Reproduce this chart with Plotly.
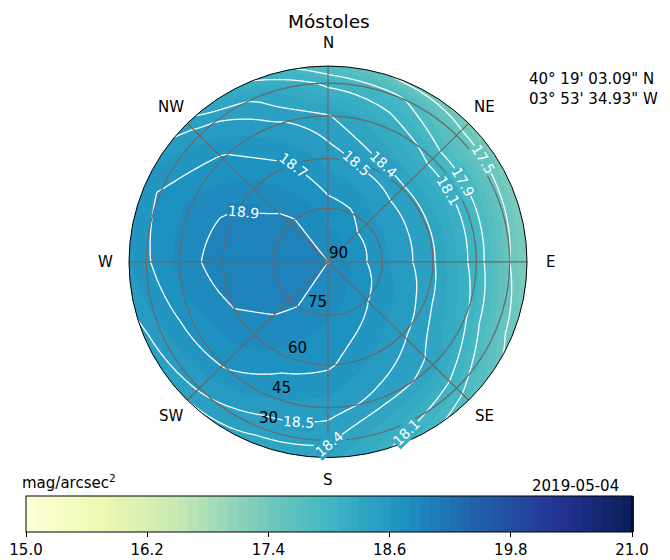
import numpy as np
import plotly.graph_objects as go

# ---------------- data ----------------
AZ = [0, 22.5, 45, 67.5, 90, 112.5, 135, 157.5, 180, 202.5, 225, 247.5, 270, 292.5, 315, 337.5]
ALT = [90, 75, 60, 45, 30, 18.5]                   # altitude rings, deg (last = map edge)
mag_alt90 = [18.90] * 16
mag_alt75 = [18.75, 18.72, 18.64, 18.63, 18.62, 18.67, 18.71, 18.77,
             18.81, 18.87, 18.93, 18.95, 18.98, 18.96, 18.93, 18.84]
mag_alt60 = [18.56, 18.47, 18.43, 18.42, 18.42, 18.46, 18.52, 18.61,
             18.72, 18.76, 18.86, 18.91, 18.97, 18.93, 18.83, 18.72]
mag_alt45 = [18.41, 18.23, 18.03, 18.03, 18.02, 18.12, 18.36, 18.45,
             18.55, 18.61, 18.71, 18.76, 18.83, 18.82, 18.72, 18.53]
mag_alt30 = [18.05, 17.94, 17.61, 17.56, 17.50, 17.64, 17.99, 18.19,
             18.42, 18.43, 18.52, 18.58, 18.68, 18.71, 18.55, 18.37]
mag_alt18 = [17.75, 17.45, 17.35, 17.28, 17.28, 17.40, 17.80, 18.05,
             18.35, 18.37, 18.40, 18.47, 18.60, 18.66, 18.45, 18.10]
LEVELS = [17.5, 17.9, 18.1, 18.4, 18.5, 18.7, 18.9]
# contour labels: level and approximate spot (pixel) where the reference writes it
LABEL_LEVEL = [18.9, 18.7, 18.5, 18.4, 18.1, 17.9, 17.5, 18.5, 18.4, 18.1]
LABEL_PX = [245, 297, 355, 390, 447, 470, 487, 298, 328, 378]
LABEL_PY = [198, 162, 167, 160, 195, 180, 160, 427, 450, 452]
RING_TICKS = [90, 75, 60, 45, 30]
DIRS = ["N", "NE", "E", "SE", "S", "SW", "W", "NW"]
DIR_AZ = [0, 45, 90, 135, 180, 225, 270, 315]
CB_TICKS = [15.0, 16.2, 17.4, 18.6, 19.8, 21.0]
TITLE = "Móstoles"
COORDS = "40° 19' 03.09\" N<br>03° 53' 34.93\" W"
DATE = "2019-05-04"
UNIT = "mag/arcsec<sup>2</sup>"

rows = [mag_alt90, mag_alt75, mag_alt60, mag_alt45, mag_alt30, mag_alt18]

# ---------------- gridding (polar -> cartesian) ----------------
rings = np.cos(np.radians(ALT))
R = rings[-1]


def mag_at(X, Y):
    X = np.asarray(X, float)
    Y = np.asarray(Y, float)
    RR = np.clip(np.hypot(X, Y), 0, R)
    AZG = np.degrees(np.arctan2(X, Y)) % 360
    vals = [np.interp(AZG, AZ, row, period=360) for row in rows]
    Z = np.zeros_like(RR)
    for k in range(len(rings) - 1):
        m = (RR >= rings[k]) & (RR <= rings[k + 1])
        t = (RR - rings[k]) / (rings[k + 1] - rings[k])
        Z = np.where(m, (1 - t) * vals[k] + t * vals[k + 1], Z)
    return Z


n = 331
xs = np.linspace(-1.02 * R, 1.02 * R, n)
X, Y = np.meshgrid(xs, xs)
Z = mag_at(X, Y)

YlGnBu = ["#ffffd9", "#edf8b1", "#c7e9b4", "#7fcdbb", "#41b6c4",
          "#1d91c0", "#225ea8", "#253494", "#081d58"]
cscale = [[i / 8, c] for i, c in enumerate(YlGnBu)]


def color_at(v):
    t = min(max((v - 15) / 6, 0), 1) * 8
    i = min(int(t), 7)
    f = t - i
    c0 = [int(YlGnBu[i][j:j + 2], 16) for j in (1, 3, 5)]
    c1 = [int(YlGnBu[i + 1][j:j + 2], 16) for j in (1, 3, 5)]
    c = [round(a + (b - a) * f) for a, b in zip(c0, c1)]
    return f"rgb({c[0]},{c[1]},{c[2]})"


FONT = "DejaVu Sans"
OFF = 8                        # the page body adds an 8 px margin
W, H = 670 - OFF, 560 - OFF    # figure size so that the page fills the window
CX, CY, RPX = 328, 266, 199    # circle centre / radius in window pixels
S = R / RPX                    # data units per pixel
RAX = 1.04 * R                 # axis half-range (a little beyond the circle)
HPX = RPX * 1.04


def fx(px):
    return (px - OFF) / W


def fy(py):
    return (H - (py - OFF)) / H


fig = go.Figure()
fig.add_trace(go.Contour(
    x=xs, y=xs, z=Z, zmin=15, zmax=21, colorscale=cscale,
    contours=dict(start=15, end=21, size=0.1, coloring="fill", showlines=False),
    line=dict(width=0), hoverinfo="skip",
    colorbar=dict(orientation="h", x=(fx(26) + fx(632)) / 2, xanchor="center",
                  len=fx(632) - fx(26), lenmode="fraction", thickness=36,
                  y=fy(504), yanchor="top", xpad=0, ypad=0,
                  outlinecolor="black", outlinewidth=1,
                  tickvals=CB_TICKS, ticktext=[f"{v:.1f}" for v in CB_TICKS],
                  ticks="outside", ticklen=5, tickcolor="black",
                  tickfont=dict(family=FONT, size=15, color="black")),
))
for lv in LEVELS:
    fig.add_trace(go.Contour(
        x=xs, y=xs, z=Z, showscale=False, hoverinfo="skip",
        contours=dict(start=lv, end=lv + 0.001, size=1, coloring="none",
                      showlabels=False),
        line=dict(color="white", width=1.3, smoothing=0),
    ))

shapes = []
for a in RING_TICKS[1:]:
    rr = np.cos(np.radians(a))
    shapes.append(dict(type="circle", xref="x", yref="y", x0=-rr, y0=-rr, x1=rr, y1=rr,
                       line=dict(color="#686868", width=1.2), layer="above"))
for az in DIR_AZ[:4]:
    s, c = np.sin(np.radians(az)) * R, np.cos(np.radians(az)) * R
    shapes.append(dict(type="line", xref="x", yref="y", x0=-s, y0=-c, x1=s, y1=c,
                       line=dict(color="#686868", width=1.2), layer="above"))
th = np.linspace(0, 2 * np.pi, 241)
circ = " ".join(("M" if i == 0 else "L") + f"{R*np.cos(t):.5f},{R*np.sin(t):.5f}"
                for i, t in enumerate(th))
B = 1.3 * R
path = f"M{-B},{-B} L{B},{-B} L{B},{B} L{-B},{B} Z " + circ + " Z"
shapes.append(dict(type="path", xref="x", yref="y", path=path, fillcolor="white",
                   fillrule="evenodd", line=dict(width=0), layer="above"))
shapes.append(dict(type="circle", xref="x", yref="y", x0=-R, y0=-R, x1=R, y1=R,
                   line=dict(color="black", width=1), layer="above"))

ann = []

# contour labels: placed on the computed contour, at the crossing nearest the reference spot
for lv, px, py in zip(LABEL_LEVEL, LABEL_PX, LABEL_PY):
    x0, y0 = (px - CX) * S, (CY - py) * S
    D = Z - lv
    pts = []
    sh = np.sign(D[:, :-1]) != np.sign(D[:, 1:])
    ii, jj = np.where(sh)
    f = D[ii, jj] / (D[ii, jj] - D[ii, jj + 1])
    pts.append(np.c_[X[ii, jj] + f * (X[ii, jj + 1] - X[ii, jj]), Y[ii, jj]])
    sv = np.sign(D[:-1, :]) != np.sign(D[1:, :])
    ii, jj = np.where(sv)
    f = D[ii, jj] / (D[ii, jj] - D[ii + 1, jj])
    pts.append(np.c_[X[ii, jj], Y[ii, jj] + f * (Y[ii + 1, jj] - Y[ii, jj])])
    P = np.vstack(pts)
    P = P[np.hypot(P[:, 0], P[:, 1]) < R * 0.96]
    if len(P):
        k = np.argmin(np.hypot(P[:, 0] - x0, P[:, 1] - y0))
        lx, ly = P[k]
    else:
        lx, ly = x0, y0
    e = 1e-3
    gx = float(mag_at(lx + e, ly) - mag_at(lx - e, ly))
    gy = float(mag_at(lx, ly + e) - mag_at(lx, ly - e))
    ang = np.degrees(np.arctan2(-gx, -gy))
    ang = (ang + 90) % 180 - 90
    ann.append(dict(x=float(lx), y=float(ly), xref="x", yref="y", text=f"{lv:.1f}",
                    showarrow=False, textangle=float(ang), bgcolor=color_at(lv + 0.05),
                    borderpad=0, font=dict(family=FONT, size=14, color="white")))

for d, az in zip(DIRS, DIR_AZ):
    px = CX + 222 * np.sin(np.radians(az))
    py = CY - 222 * np.cos(np.radians(az))
    ann.append(dict(x=fx(px), y=fy(py), xref="paper", yref="paper", text=d, showarrow=False,
                    xanchor="center", yanchor="middle",
                    font=dict(family=FONT, size=15, color="black")))
for a in RING_TICKS:
    rr = np.cos(np.radians(a))
    ang = np.radians(202.5)
    ann.append(dict(x=rr * np.sin(ang), y=rr * np.cos(ang), xref="x", yref="y",
                    text=str(a), showarrow=False, xanchor="center", yanchor="middle",
                    xshift=10, yshift=9, font=dict(family=FONT, size=15, color="black")))

ann.append(dict(x=fx(329), y=fy(22), xref="paper", yref="paper", text=TITLE, showarrow=False,
                xanchor="center", yanchor="middle",
                font=dict(family=FONT, size=18.5, color="black")))
ann.append(dict(x=fx(527), y=fy(90), xref="paper", yref="paper", text=COORDS, showarrow=False,
                xanchor="left", yanchor="middle", align="left",
                font=dict(family=FONT, size=15, color="black")))
ann.append(dict(x=fx(20), y=fy(490), xref="paper", yref="paper", text=UNIT, showarrow=False,
                xanchor="left", yanchor="middle", font=dict(family=FONT, size=15, color="black")))
ann.append(dict(x=fx(621), y=fy(494), xref="paper", yref="paper", text=DATE, showarrow=False,
                xanchor="right", yanchor="middle", font=dict(family=FONT, size=15, color="black")))

fig.update_layout(
    width=W, height=H, margin=dict(l=0, r=0, t=0, b=0),
    paper_bgcolor="white", plot_bgcolor="white", showlegend=False,
    xaxis=dict(range=[-RAX, RAX], domain=[fx(CX - HPX), fx(CX + HPX)], visible=False,
               fixedrange=True),
    yaxis=dict(range=[-RAX, RAX], domain=[fy(CY + HPX), fy(CY - HPX)], visible=False,
               fixedrange=True),
    shapes=shapes, annotations=ann,
)
fig.write_html("out.html", config={"displayModeBar": False, "responsive": False})
